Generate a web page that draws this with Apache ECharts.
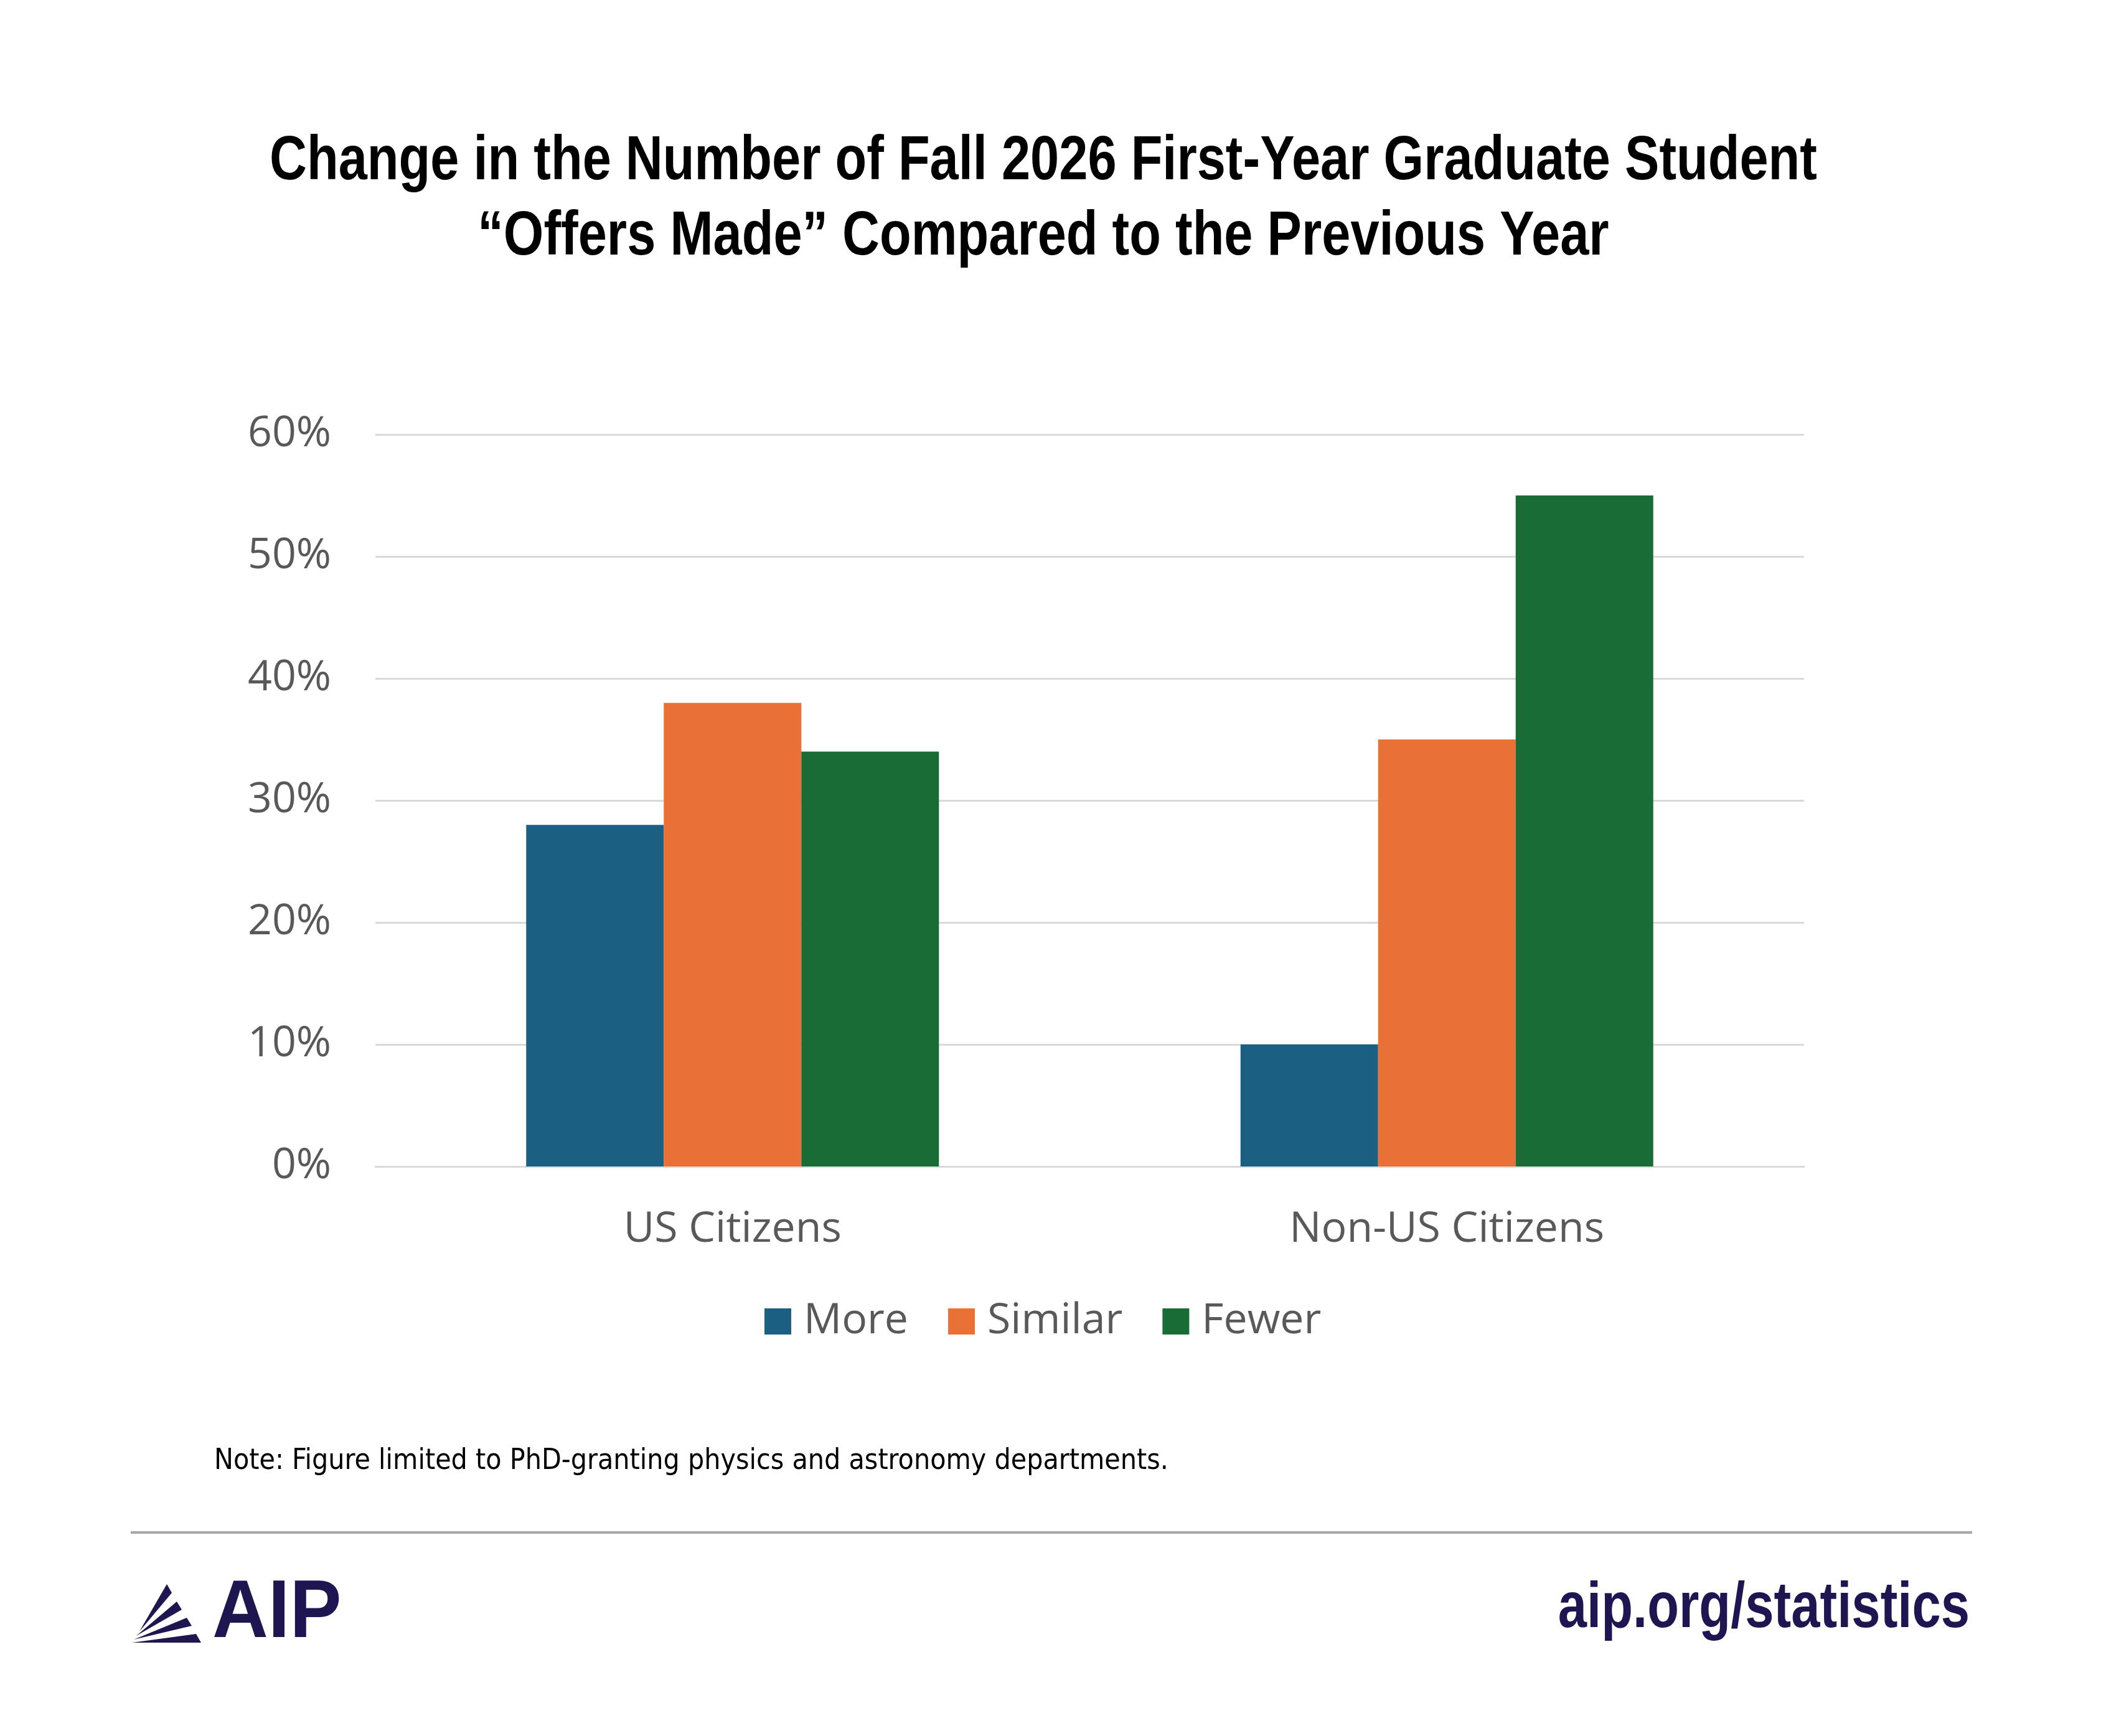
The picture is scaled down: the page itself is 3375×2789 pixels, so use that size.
<!DOCTYPE html>
<html>
<head>
<meta charset="utf-8">
<title>Offers Made</title>
<script src="https://cdn.jsdelivr.net/npm/echarts@6/dist/echarts.min.js"></script>
<style>
  html, body { margin: 0; padding: 0; background: #fff; }
  #chart { width: 3375px; height: 2789px; }
</style>
</head>
<body>
<div id="chart"></div>
<script>
// data
var categories = ['US Citizens', 'Non-US Citizens'];
var seriesNames = ['More', 'Similar', 'Fewer'];
var moreVals = [28, 10];
var similarVals = [38, 35];
var fewerVals = [34, 55];
var yTicks = [0, 10, 20, 30, 40, 50, 60];

var titleLines = [
    'Change in the Number of Fall 2026 First-Year Graduate Student',
    '\u201COffers Made\u201D Compared to the Previous Year'
];
var noteText = 'Note: Figure limited to PhD-granting physics and astronomy departments.';

var colors = ['#1B6082', '#EA7135', '#1A6C37'];
var grey = '#595959';
var navy = '#1E1650';
var bodyFont = "'Open Sans', 'Noto Sans', sans-serif";
var boldFont = "'Liberation Sans', Arial, sans-serif";

var myChart = echarts.init(document.getElementById('chart'));

// bar series share the same look, only name/colour/data differ
function barSeries(i, values) {
    return {
        name: seriesNames[i],
        type: 'bar',
        barWidth: 221,
        barGap: '0%',
        itemStyle: { color: colors[i] },
        data: values
    };
}

var option = {
    backgroundColor: '#fff',
    animation: false,
    grid: {
        left: 603,
        right: 477,
        top: 698,
        bottom: 915
    },
    legend: {
        data: seriesNames,
        left: 1223,
        top: 2084,
        icon: 'rect',
        itemWidth: 43,
        itemHeight: 42,
        itemGap: 64,
        textStyle: {
            fontFamily: bodyFont,
            fontSize: 68,
            lineHeight: 68,
            color: grey,
            padding: [0, 0, 0, 15]
        }
    },
    xAxis: [
        {
            type: 'category',
            data: categories,
            axisTick: { show: false },
            axisLine: {
                lineStyle: { color: '#D9D9D9', width: 3 }
            },
            axisLabel: {
                margin: 68,
                fontFamily: bodyFont,
                fontSize: 68,
                color: grey
            }
        }
    ],
    yAxis: [
        {
            type: 'value',
            min: yTicks[0],
            max: yTicks[yTicks.length - 1],
            interval: 10,
            axisLine: { show: false },
            axisTick: { show: false },
            splitLine: {
                lineStyle: { color: '#D9D9D9', width: 3 }
            },
            axisLabel: {
                margin: 71,
                fontFamily: bodyFont,
                fontSize: 68,
                color: grey,
                formatter: '{value}%'
            }
        }
    ],
    series: [
        barSeries(0, moreVals),
        barSeries(1, similarVals),
        barSeries(2, fewerVals)
    ],
    graphic: [
        // title, squeezed to look like a condensed bold face
        {
            type: 'text',
            x: 1676,
            y: 260,
            scaleX: 0.83,
            style: {
                text: titleLines[0],
                font: 'bold 100px ' + boldFont,
                fill: '#000',
                textAlign: 'center',
                textVerticalAlign: 'middle'
            }
        },
        {
            type: 'text',
            x: 1676,
            y: 381,
            scaleX: 0.83,
            style: {
                text: titleLines[1],
                font: 'bold 100px ' + boldFont,
                fill: '#000',
                textAlign: 'center',
                textVerticalAlign: 'middle'
            }
        },
        // note under the chart
        {
            type: 'text',
            x: 344,
            y: 2348,
            style: {
                text: noteText,
                font: "46px 'DejaVu Sans Condensed', sans-serif",
                fill: '#000',
                textAlign: 'left',
                textVerticalAlign: 'middle'
            }
        },
        // rule above the footer
        {
            type: 'rect',
            shape: { x: 210, y: 2460, width: 2958, height: 4 },
            style: { fill: '#A6A6A6' }
        },
        // AIP logo mark
        {
            type: 'group',
            children: [
                { type: 'polygon', shape: { points: [[224, 2621], [268, 2545], [276, 2559]] }, style: { fill: navy } },
                { type: 'polygon', shape: { points: [[219, 2628], [284, 2573], [292, 2586]] }, style: { fill: navy } },
                { type: 'polygon', shape: { points: [[215, 2634], [300, 2599], [308, 2612]] }, style: { fill: navy } },
                { type: 'polygon', shape: { points: [[212, 2639], [315, 2625], [323, 2639]] }, style: { fill: navy } }
            ]
        },
        {
            type: 'text',
            x: 341,
            y: 2594,
            scaleX: 0.95,
            style: {
                text: 'AIP',
                font: 'bold 131px ' + boldFont,
                fill: navy,
                textAlign: 'left',
                textVerticalAlign: 'middle'
            }
        },
        {
            type: 'text',
            x: 3164,
            y: 2585,
            scaleX: 0.8,
            style: {
                text: 'aip.org/statistics',
                font: 'bold 104px ' + boldFont,
                fill: navy,
                textAlign: 'right',
                textVerticalAlign: 'middle'
            }
        }
    ]
};

myChart.setOption(option);
</script>
</body>
</html>
